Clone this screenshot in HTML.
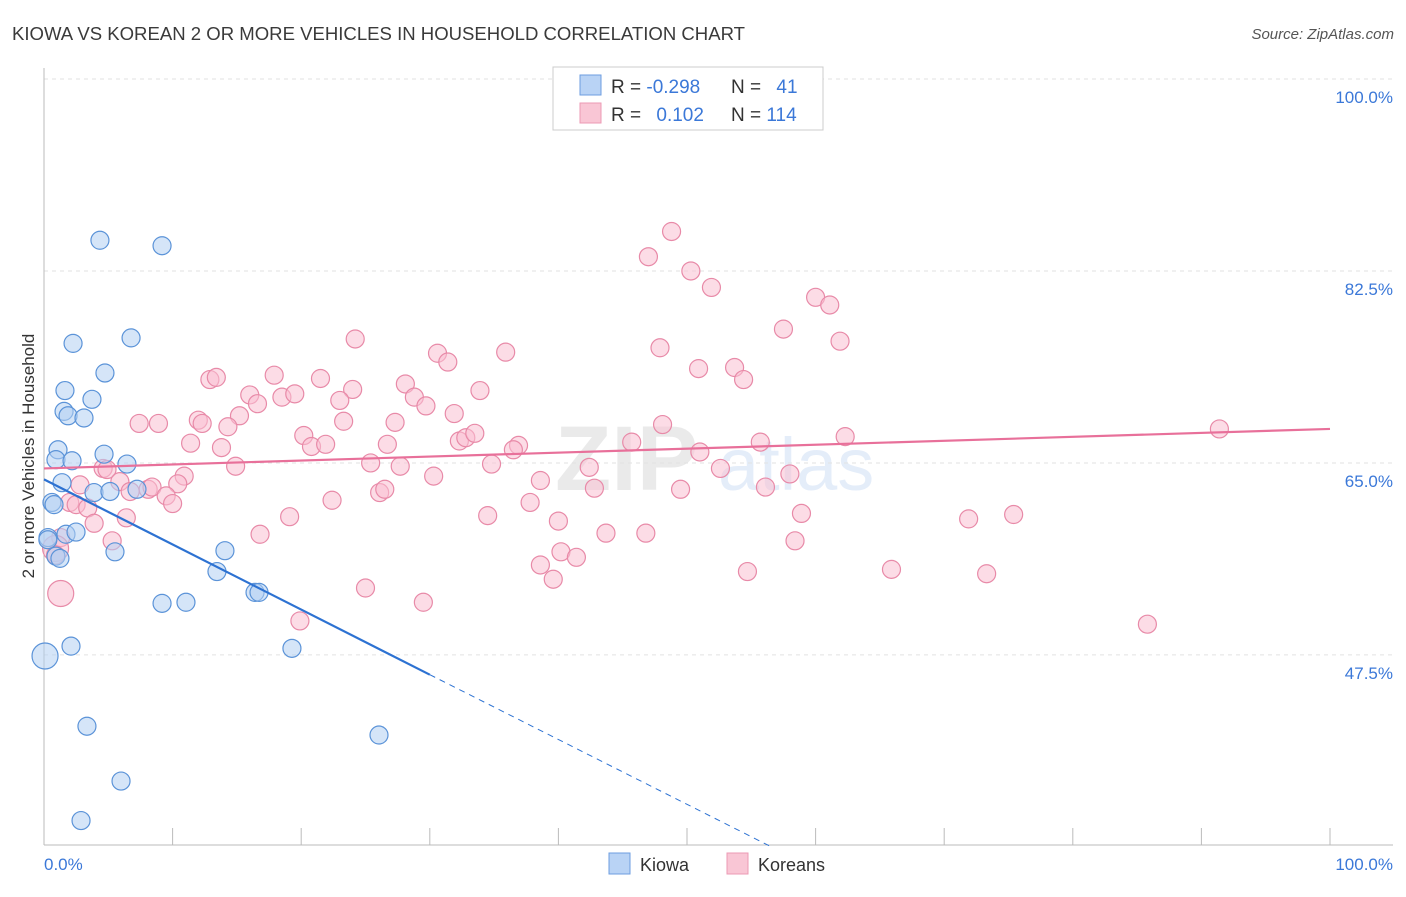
<!DOCTYPE html>
<html><head><meta charset="utf-8"><style>
body{margin:0;background:#fff;font-family:"Liberation Sans",sans-serif;}
svg text{font-family:"Liberation Sans",sans-serif;}
</style></head><body>
<svg id="chart" width="1406" height="892" xmlns="http://www.w3.org/2000/svg">
<text x="12" y="40" font-size="18" fill="#3a3a3a" textLength="733" lengthAdjust="spacingAndGlyphs">KIOWA VS KOREAN 2 OR MORE VEHICLES IN HOUSEHOLD CORRELATION CHART</text>
<text x="1394" y="39" font-size="15" fill="#555" text-anchor="end" font-style="italic">Source: ZipAtlas.com</text>
<g opacity="0.13">
<text x="555" y="490" font-size="92" font-family="Liberation Serif" fill="#666" font-weight="bold">ZIP</text>
<text x="718" y="490" font-size="74" fill="#3b78d8">atlas</text>
</g>
<g id="grid"></g>
<g id="axes"></g>
<g id="pts"></g>
<g id="trends"></g>
<text transform="translate(34,456) rotate(-90)" font-size="17" fill="#333" text-anchor="middle">2 or more Vehicles in Household</text>
<text x="44" y="870" font-size="17" fill="#3b78d8">0.0%</text>
<text x="1393" y="870" font-size="17" fill="#3b78d8" text-anchor="end">100.0%</text>
<g>
<rect x="553" y="67" width="270" height="63" fill="#fff" stroke="#ccc"/>
<rect x="580" y="75" width="21" height="20" fill="#b9d3f5" stroke="#6d9ee0"/>
<rect x="580" y="103" width="21" height="20" fill="#f9c6d5" stroke="#ec9ab4"/>
<text x="611" y="93" font-size="19" fill="#333">R = <tspan fill="#3b78d8">-0.298</tspan></text>
<text x="731" y="93" font-size="19" fill="#333">N = <tspan fill="#3b78d8" dx="10">41</tspan></text>
<text x="611" y="121" font-size="19" fill="#333">R = <tspan fill="#3b78d8" dx="10">0.102</tspan></text>
<text x="731" y="121" font-size="19" fill="#333">N = <tspan fill="#3b78d8">114</tspan></text>
</g>
<g>
<rect x="609" y="853" width="21" height="21" fill="#b9d3f5" stroke="#6d9ee0"/>
<text x="640" y="871" font-size="18" fill="#333">Kiowa</text>
<rect x="727" y="853" width="21" height="21" fill="#f9c6d5" stroke="#ec9ab4"/>
<text x="758" y="871" font-size="18" fill="#333">Koreans</text>
</g>
</svg>
<script>
const yTicks=[100,82.5,65,47.5];
const yTickLabels=["100.0%","82.5%","65.0%","47.5%"];
const kiowaX=[4.35,9.18,2.26,6.77,4.74,1.63,3.73,1.56,1.87,3.11,1.09,0.93,2.18,4.67,6.45,1.40,3.89,5.13,7.23,0.62,0.78,1.71,2.49,0.31,0.93,1.24,5.52,14.07,13.45,9.18,11.04,16.41,16.72,0.08,2.10,19.28,3.34,26.05,5.99,2.88,0.3];
const kiowaY=[85.3,84.8,75.9,76.4,73.2,71.6,70.8,69.7,69.3,69.1,66.2,65.3,65.2,65.8,64.9,63.2,62.3,62.4,62.6,61.4,61.2,58.5,58.7,58.2,56.5,56.3,56.9,57.0,55.1,52.2,52.3,53.2,53.2,47.4,48.3,48.1,41.0,40.2,36.0,32.4,58.0];
const kiowaBig=[33];
const koreanX=[48.8,47.0,50.3,51.9,60.0,61.1,57.5,61.9,24.2,30.6,31.4,35.9,47.9,50.9,53.7,54.4,12.9,13.4,17.9,21.5,24.0,28.1,33.9,16.0,16.6,18.5,19.5,23.0,28.8,29.7,15.2,12.0,12.3,7.4,8.9,14.3,23.3,27.3,31.9,20.2,11.4,13.8,20.8,21.9,26.7,32.3,32.8,33.5,36.9,36.5,45.7,48.1,51.0,55.7,62.3,91.4,14.9,4.6,4.9,25.4,27.7,34.8,42.4,52.6,58.0,10.9,5.9,10.4,30.3,38.6,2.8,8.1,8.4,6.7,26.1,26.5,42.8,49.5,56.1,9.5,10.0,2.0,2.5,3.4,22.4,37.8,6.4,3.9,19.1,34.5,40.0,58.9,71.9,75.4,1.3,5.3,16.8,43.7,46.8,58.4,40.2,41.4,38.6,65.9,54.7,73.3,39.6,25.0,29.5,19.9,85.8,0.9,1.3,0.9];
const koreanY=[86.1,83.8,82.5,81.0,80.1,79.4,77.2,76.1,76.3,75.0,74.2,75.1,75.5,73.6,73.7,72.6,72.6,72.8,73.0,72.7,71.7,72.2,71.6,71.2,70.4,71.0,71.3,70.7,71.0,70.2,69.3,68.9,68.6,68.6,68.6,68.3,68.8,68.7,69.5,67.5,66.8,66.4,66.5,66.7,66.7,67.0,67.3,67.7,66.6,66.2,66.9,68.5,66.0,66.9,67.4,68.1,64.7,64.5,64.4,65.0,64.7,64.9,64.6,64.5,64.0,63.8,63.3,63.1,63.8,63.4,63.0,62.6,62.8,62.4,62.3,62.6,62.7,62.6,62.8,62.0,61.3,61.4,61.2,60.9,61.6,61.4,60.0,59.5,60.1,60.2,59.7,60.4,59.9,60.3,58.2,57.9,58.5,58.6,58.6,57.9,56.9,56.4,55.7,55.3,55.1,54.9,54.4,53.6,52.3,50.6,50.3,57.2,53.1,56.6];
const koreanBig=[111,112];
const kiowaTrend=[[0,63.5],[30,45.7]];
const kiowaTrendExt=[[30,45.7],[56.4,30.1]];
const koreanTrend=[[0,64.5],[100,68.1]];

const NS="http://www.w3.org/2000/svg";
const X0=44,X1=1330,Y100=79,PXP=10.97;
const sx=v=>X0+(X1-X0)*v/100;
const sy=v=>Y100+(100-v)*PXP;
function mk(t,a,p){const e=document.createElementNS(NS,t);for(const k in a)e.setAttribute(k,a[k]);p.appendChild(e);return e;}
const grid=document.getElementById('grid'),axes=document.getElementById('axes'),pts=document.getElementById('pts'),tr=document.getElementById('trends');
yTicks.forEach((v,i)=>{
 const l=mk('line',{x1:44,x2:1393,y1:sy(v),y2:sy(v),stroke:'#e2e2e2','stroke-dasharray':'4,4'},grid);
 
 
 const t=mk('text',{x:1393,y:sy(v)+24,'font-size':17,fill:'#3b78d8','text-anchor':'end'},grid);
 t.textContent=yTickLabels[i];
 
 
});
const ax=mk('line',{x1:44,x2:44,y1:68,y2:845,stroke:'#bbb'},axes);


const bx=mk('line',{x1:44,x2:1393,y1:845,y2:845,stroke:'#bbb'},axes);


for(let i=0;i<=10;i++){
 const tk=mk('line',{x1:sx(i*10),x2:sx(i*10),y1:828,y2:845,stroke:'#bbb'},axes);
 
 
}
function draw(xs,ys,big,fill,stroke,name){
 xs.forEach((x,i)=>{
  const r=big.includes(i)?13:9;
  const c=mk('circle',{cx:sx(x),cy:sy(ys[i]),r:r,fill:fill,'fill-opacity':0.55,stroke:stroke,'stroke-width':1.2},pts);
  
  
 });
}
draw(koreanX,koreanY,koreanBig,'#f9c0d1','#e88aa8','korean-point');
draw(kiowaX,kiowaY,kiowaBig,'#b3cff3','#5b93d8','kiowa-point');
function line(p,col,w,dash,name){
 const l=mk('line',{x1:sx(p[0][0]),y1:sy(p[0][1]),x2:sx(p[1][0]),y2:sy(p[1][1]),stroke:col,'stroke-width':w},tr);
 if(dash)l.setAttribute('stroke-dasharray',dash);
 
 
}
line(koreanTrend,'#e8709a',2.2,null,'korean-trend-line');
line(kiowaTrend,'#2d72d2',2.2,null,'kiowa-trend-line');
line(kiowaTrendExt,'#2d72d2',1,'6,5','kiowa-trend-extension');
</script>
</body></html>
